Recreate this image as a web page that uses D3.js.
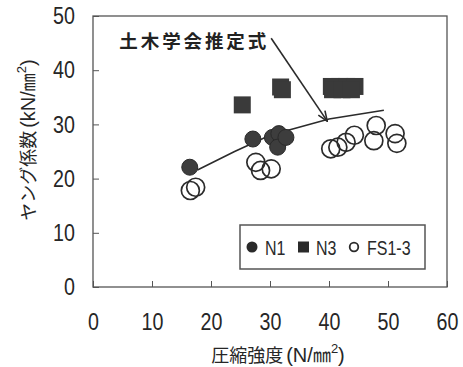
<!DOCTYPE html>
<html><head><meta charset="utf-8">
<script src="https://cdn.jsdelivr.net/npm/d3@7"></script>
<style>
html,body{margin:0;padding:0;background:#fff;}
svg{display:block;}
</style></head>
<body>
<svg id="chart" width="463" height="367"></svg>
<script>
// ---- data ----
const xTicks = [0, 10, 20, 30, 40, 50, 60];
const yTicks = [0, 10, 20, 30, 40, 50];
const n1X = [16.4, 27.1, 30.4, 31.5, 31.3, 32.7];
const n1Y = [22.1, 27.3, 27.6, 28.3, 25.8, 27.6];
const n3X = [25.3, 31.8, 32.1, 40.4, 41.8, 43.0, 44.4, 40.6, 42.2, 43.8];
const n3Y = [33.6, 36.9, 36.4, 37.0, 37.0, 37.0, 37.0, 36.4, 36.4, 36.4];
const fsX = [16.5, 17.4, 27.6, 28.4, 30.2, 40.3, 41.5, 42.9, 44.3, 48.0, 47.6, 51.2, 51.5];
const fsY = [17.8, 18.4, 23.0, 21.5, 21.8, 25.5, 25.8, 26.7, 28.0, 29.8, 27.0, 28.3, 26.5];
const jsceX = [17.7, 24, 30, 40, 49.3];
const jsceY = [21.6, 25, 28, 31, 32.6];
const annoText = "土木学会推定式";
const annoStart = [30.2, 45.9];
const annoTip = [39.7, 30.6];
const legendLabels = ["N1", "N3", "FS1-3"];

// ---- layout ----
const svg = d3.select("#chart");
const L = 93, R = 447, T = 16, B = 287;
const x = d3.scaleLinear().domain([0, 60]).range([L, R]);
const y = d3.scaleLinear().domain([0, 50]).range([B, T]);
const numFont = "'Liberation Sans', Arial, sans-serif";
const jpFont = "'Noto Sans CJK JP', sans-serif";
const ink = "#2b2b2b";
const narrow = 0.82;

svg.append("rect").attr("width", 463).attr("height", 367).attr("fill", "#fff");

// axes
const xa = svg.append("g").attr("transform", `translate(0,${B})`)
  .call(d3.axisBottom(x).tickValues(xTicks).tickSizeInner(-6).tickSizeOuter(0).tickPadding(26));
const ya = svg.append("g").attr("transform", `translate(${L},0)`)
  .call(d3.axisLeft(y).tickValues(yTicks).tickSizeInner(-6).tickSizeOuter(0).tickPadding(18));
[xa, ya].forEach(g => {
  g.select(".domain").remove();
  g.selectAll(".tick line").attr("stroke", "#555").attr("stroke-width", 1);
  g.selectAll(".tick text").attr("font-family", numFont).attr("font-size", 24).attr("fill", "#262626")
    .attr("transform", `scale(${narrow},1)`);
});
ya.selectAll(".tick text").attr("x", -18 / narrow);

// frame
svg.append("rect").attr("x", L).attr("y", T).attr("width", R - L).attr("height", B - T)
  .attr("fill", "none").attr("stroke", "#555").attr("stroke-width", 1.3);

// JSCE line
svg.append("path")
  .datum(jsceX.map((d, i) => [d, jsceY[i]]))
  .attr("d", d3.line().x(d => x(d[0])).y(d => y(d[1])))
  .attr("fill", "none").attr("stroke", ink).attr("stroke-width", 1.6);

// N1 filled circles
svg.append("g").selectAll("circle").data(n1X.map((d, i) => [d, n1Y[i]])).join("circle")
  .attr("cx", d => x(d[0])).attr("cy", d => y(d[1])).attr("r", 8)
  .attr("fill", "#3d3d3d").attr("stroke", "#2a2a2a").attr("stroke-width", 1);

// N3 squares
const sq = 17;
svg.append("g").selectAll("rect").data(n3X.map((d, i) => [d, n3Y[i]])).join("rect")
  .attr("x", d => x(d[0]) - sq / 2).attr("y", d => y(d[1]) - sq / 2)
  .attr("width", sq).attr("height", sq)
  .attr("fill", "#3a3a3a");

// FS open circles
svg.append("g").selectAll("circle").data(fsX.map((d, i) => [d, fsY[i]])).join("circle")
  .attr("cx", d => x(d[0])).attr("cy", d => y(d[1])).attr("r", 9)
  .attr("fill", "none").attr("stroke", ink).attr("stroke-width", 1.7);

// annotation arrow
const defs = svg.append("defs");
defs.append("marker").attr("id", "ah").attr("viewBox", "0 0 12 12")
  .attr("refX", 11).attr("refY", 6).attr("markerWidth", 12).attr("markerHeight", 12)
  .attr("markerUnits", "userSpaceOnUse").attr("orient", "auto")
  .append("path").attr("d", "M1,2 L11,6 L1,10").attr("fill", "none").attr("stroke", ink).attr("stroke-width", 1.6);
svg.append("line")
  .attr("x1", x(annoStart[0])).attr("y1", y(annoStart[1]))
  .attr("x2", x(annoTip[0])).attr("y2", y(annoTip[1]))
  .attr("stroke", ink).attr("stroke-width", 1.6).attr("marker-end", "url(#ah)");
svg.append("text").attr("x", x(annoStart[0]) - 2).attr("y", y(annoStart[1]) + 10)
  .attr("text-anchor", "end").attr("font-family", jpFont).attr("font-weight", "bold")
  .attr("font-size", 18.5).attr("letter-spacing", 2.9).attr("fill", "#222").text(annoText);

// legend
const lg = svg.append("g");
lg.append("rect").attr("x", 240).attr("y", 225).attr("width", 185).attr("height", 44)
  .attr("fill", "#fff").attr("stroke", "#555").attr("stroke-width", 1.5);
const ly = 247;
lg.append("circle").attr("cx", 252).attr("cy", ly).attr("r", 5.5).attr("fill", "#2a2a2a");
lg.append("rect").attr("x", 298).attr("y", ly - 5.5).attr("width", 11).attr("height", 11).attr("fill", "#2a2a2a");
lg.append("circle").attr("cx", 354).attr("cy", ly).attr("r", 4.3).attr("fill", "none").attr("stroke", "#2a2a2a").attr("stroke-width", 1.8);
[265, 316, 367].forEach((lx, i) => {
  lg.append("text").attr("transform", `translate(${lx},${ly + 7.5}) scale(0.8,1)`).attr("font-family", numFont)
    .attr("font-size", 20).attr("fill", "#2a2a2a").text(legendLabels[i]);
});

// axis titles
function unitTitle(sel, jp, pre) {
  sel.append("tspan").attr("font-family", jpFont).text(jp);
  sel.append("tspan").attr("font-family", numFont).attr("font-size", 20).attr("dx", 3).text(pre);
  sel.append("tspan").attr("font-family", jpFont).text("㎜");
  sel.append("tspan").attr("font-family", numFont).attr("font-size", 13).attr("dy", -9).text("2");
  sel.append("tspan").attr("font-family", numFont).attr("font-size", 20).attr("dy", 9).text(")");
}
const xt = svg.append("text").attr("x", 278).attr("y", 362).attr("text-anchor", "middle")
  .attr("font-size", 18).attr("fill", "#262626");
unitTitle(xt, "圧縮強度", "(N/");
const yt = svg.append("text").attr("transform", "translate(35,140) rotate(-90)").attr("text-anchor", "middle")
  .attr("font-size", 18).attr("fill", "#262626");
unitTitle(yt, "ヤング係数", "(kN/");
</script>
</body></html>
